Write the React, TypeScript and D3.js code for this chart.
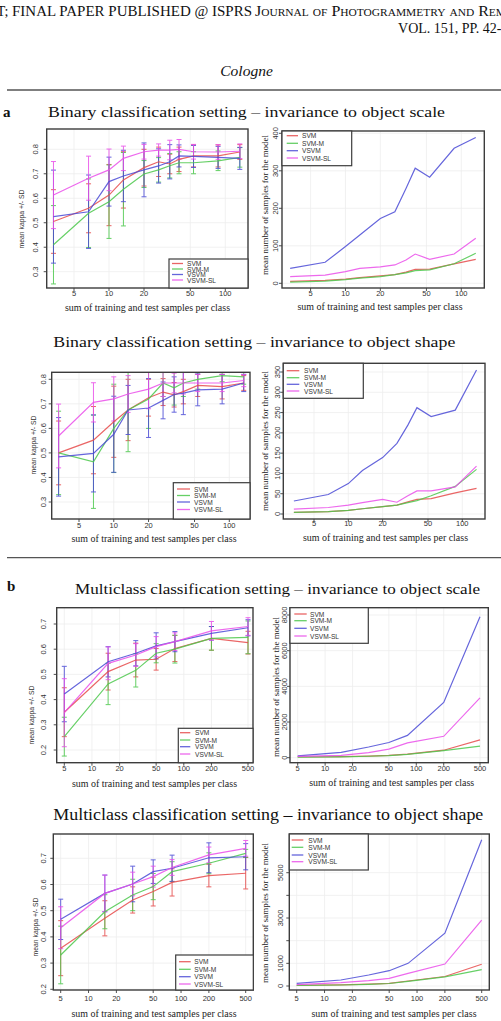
import React from "react";
import * as d3 from "d3";

// ---- data ----
const seriesNames = ["SVM", "SVM-M", "VSVM", "VSVM-SL"];
const seriesColors = ["#e64b4b", "#4cc84c", "#4b4bd6", "#ea4fea"];

const xBinary = [3.33, 6.67, 10, 13.3, 20, 26.7, 33.3, 40, 53.3, 86.7, 133.3];
const xMulti = [5, 15, 30, 50, 80, 200, 500];

const ticksBinary = [5, 10, 20, 50, 100];
const ticksMulti = [5, 10, 20, 50, 100, 200, 500];
const kappaTicksA = [0.3, 0.4, 0.5, 0.6, 0.7, 0.8];
const kappaTicksB = [0.2, 0.3, 0.4, 0.5, 0.6, 0.7];

// a) binary, invariance to object scale
const binScaleKappa = [
  [0.505, 0.559, 0.613, 0.675, 0.725, 0.749, 0.74, 0.759, 0.773, 0.773, 0.789],
  [0.41, 0.539, 0.586, 0.637, 0.699, 0.716, 0.733, 0.745, 0.745, 0.753, 0.767],
  [0.525, 0.545, 0.668, 0.691, 0.716, 0.732, 0.749, 0.773, 0.771, 0.767, 0.763],
  [0.613, 0.682, 0.716, 0.763, 0.79, 0.797, 0.797, 0.8, 0.79, 0.789, 0.792],
];
const binScaleSD = [
  [0.13, 0.1, 0.125, 0.115, 0.075, 0.06, 0.04, 0.05, 0.045, 0.045, 0.03],
  [0.16, 0.14, 0.15, 0.15, 0.055, 0.05, 0.05, 0.045, 0.045, 0.04, 0.04],
  [0.19, 0.15, 0.1, 0.105, 0.11, 0.07, 0.07, 0.045, 0.045, 0.045, 0.045],
  [0.137, 0.09, 0.085, 0.05, 0.03, 0.025, 0.04, 0.04, 0.03, 0.03, 0.03],
];
const binScaleSamples = [
  [5, 8, 11, 15, 20, 23, 30, 37, 38, 52, 64],
  [3, 6, 10, 14, 18, 23, 28, 34, 36, 52, 80],
  [40, 56, 98, 129, 173, 191, 253, 307, 283, 360, 389],
  [18, 22, 31, 40, 44, 49, 62, 78, 64, 78, 120],
];

// a) binary, invariance to object shape
const binShapeKappa = [
  [0.5, 0.552, 0.627, 0.675, 0.725, 0.748, 0.737, 0.75, 0.775, 0.77, 0.785],
  [0.5, 0.464, 0.6, 0.675, 0.72, 0.785, 0.765, 0.785, 0.8, 0.815, 0.81],
  [0.484, 0.498, 0.576, 0.675, 0.683, 0.714, 0.738, 0.744, 0.757, 0.76, 0.785],
  [0.569, 0.706, 0.72, 0.74, 0.76, 0.785, 0.785, 0.785, 0.785, 0.785, 0.795],
];
const binShapeSD = [
  [0.13, 0.137, 0.145, 0.125, 0.075, 0.055, 0.05, 0.05, 0.045, 0.05, 0.03],
  [0.17, 0.19, 0.18, 0.17, 0.12, 0.055, 0.07, 0.055, 0.04, 0.025, 0.03],
  [0.16, 0.157, 0.155, 0.1, 0.12, 0.075, 0.072, 0.088, 0.065, 0.06, 0.035],
  [0.13, 0.08, 0.09, 0.075, 0.08, 0.055, 0.04, 0.045, 0.035, 0.035, 0.025],
];
const binShapeSamples = [
  [4, 6, 9, 13, 18, 22, 30, 36, 38, 52, 63],
  [4, 6, 9, 13, 18, 22, 28, 33, 45, 68, 110],
  [32, 48, 75, 107, 139, 174, 219, 262, 240, 256, 355],
  [12, 16, 22, 28, 36, 29, 45, 57, 57, 67, 118],
];

// b) multiclass, invariance to object scale
const mulScaleKappa = [
  [0.35, 0.511, 0.557, 0.56, 0.603, 0.643, 0.626],
  [0.253, 0.462, 0.516, 0.584, 0.6, 0.643, 0.647],
  [0.422, 0.55, 0.584, 0.613, 0.63, 0.663, 0.685],
  [0.348, 0.544, 0.577, 0.61, 0.63, 0.673, 0.69],
];
const mulScaleSD = [
  [0.097, 0.073, 0.067, 0.043, 0.052, 0.047, 0.045],
  [0.077, 0.082, 0.066, 0.038, 0.055, 0.047, 0.065],
  [0.11, 0.06, 0.05, 0.052, 0.04, 0.027, 0.032],
  [0.135, 0.065, 0.045, 0.04, 0.035, 0.037, 0.035],
];
const mulScaleSamples = [
  [40, 60, 90, 130, 200, 420, 1000],
  [30, 50, 80, 120, 190, 400, 650],
  [100, 300, 600, 850, 1250, 3100, 7900],
  [70, 130, 280, 480, 830, 1200, 3350],
];

// b) multiclass, invariance to object shape
const mulShapeKappa = [
  [0.357, 0.471, 0.541, 0.573, 0.608, 0.634, 0.643],
  [0.331, 0.496, 0.56, 0.592, 0.649, 0.681, 0.719],
  [0.467, 0.566, 0.602, 0.649, 0.662, 0.702, 0.706],
  [0.435, 0.566, 0.602, 0.63, 0.665, 0.713, 0.738],
];
const mulShapeSD = [
  [0.105, 0.067, 0.05, 0.055, 0.052, 0.043, 0.06],
  [0.11, 0.065, 0.06, 0.05, 0.038, 0.04, 0.015],
  [0.077, 0.07, 0.068, 0.045, 0.05, 0.057, 0.05],
  [0.08, 0.07, 0.045, 0.04, 0.03, 0.03, 0.03],
];
const mulShapeSamples = [
  [30, 50, 80, 120, 220, 420, 960],
  [25, 45, 75, 110, 200, 400, 720],
  [120, 265, 485, 675, 1000, 2330, 6450],
  [60, 145, 235, 340, 560, 970, 2910],
];

const SERIF = "'Liberation Serif', 'DejaVu Serif', serif";
const SANS = "'Liberation Sans', Arial, sans-serif";
const X_TITLE = "sum of training and test samples per class";

type Legend = { box: number[]; rows: number[]; line: number[]; textX: number };
type Panel = {
  id: string;
  box: number[]; // x0, y0, x1, y1
  xs: number[];
  xDom: number[]; xRange: number[]; xTicks: number[];
  yDom: number[]; yRange: number[]; yTicks: number[]; yLabels?: number[];
  kappa: boolean;
  means: number[][]; sds?: number[][];
  yLabX: number; yTitleX: number; yTitleY: number;
  xLabY: number; xTitleX: number; xTitleY: number;
  legend: Legend;
};

const panels: Panel[] = [
  {
    id: "a1l", box: [46.7, 129, 248, 288], xs: xBinary,
    xDom: [5, 100], xRange: [74, 225.3], xTicks: ticksBinary,
    yDom: [0.3, 0.8], yRange: [271.7, 149.3], yTicks: kappaTicksA, kappa: true,
    means: binScaleKappa, sds: binScaleSD,
    yLabX: 35, yTitleX: 21, yTitleY: 219, xLabY: 296, xTitleX: 147.5, xTitleY: 311,
    legend: { box: [169, 259, 248, 288], rows: [263.5, 269, 274.5, 280], line: [172, 183], textX: 187 },
  },
  {
    id: "a1r", box: [282, 131, 484.3, 288], xs: xBinary,
    xDom: [5, 100], xRange: [310.6, 461.3], xTicks: ticksBinary,
    yDom: [0, 400], yRange: [283.3, 133.3], yTicks: [0, 100, 200, 300, 400], kappa: false,
    means: binScaleSamples,
    yLabX: 275, yTitleX: 265, yTitleY: 205, xLabY: 296, xTitleX: 380, xTitleY: 310,
    legend: { box: [282, 131, 351.7, 165.7], rows: [135.7, 143.3, 150.7, 158], line: [286.7, 298], textX: 302 },
  },
  {
    id: "a2l", box: [51.7, 372.3, 250, 519], xs: xBinary,
    xDom: [5, 100], xRange: [79, 229.3], xTicks: ticksBinary,
    yDom: [0.3, 0.8], yRange: [502, 379.3], yTicks: kappaTicksA, kappa: true,
    means: binShapeKappa, sds: binShapeSD,
    yLabX: 43.3, yTitleX: 33, yTitleY: 445, xLabY: 528, xTitleX: 154, xTitleY: 541.7,
    legend: { box: [173.3, 482.7, 250, 519], rows: [489, 495.5, 502, 509.5], line: [177, 190], textX: 194 },
  },
  {
    id: "a2r", box: [283.3, 363.3, 485, 519], xs: xBinary,
    xDom: [5, 100], xRange: [314, 462.3], xTicks: ticksBinary,
    yDom: [0, 350], yRange: [514, 372], yTicks: [0, 50, 100, 150, 200, 250, 300, 350], kappa: false,
    means: binShapeSamples,
    yLabX: 277.5, yTitleX: 265, yTitleY: 441, xLabY: 525.5, xTitleX: 385.5, xTitleY: 541,
    legend: { box: [283.3, 363.3, 363.3, 398.3], rows: [370.7, 377.7, 384.3, 391], line: [286.7, 299.3], textX: 304 },
  },
  {
    id: "b1l", box: [56.7, 607.7, 253, 762.7], xs: xMulti,
    xDom: [5, 500], xRange: [64.3, 248], xTicks: ticksMulti,
    yDom: [0.2, 0.7], yRange: [750, 624], yTicks: kappaTicksB, kappa: true,
    means: mulScaleKappa, sds: mulScaleSD,
    yLabX: 43.3, yTitleX: 31.7, yTitleY: 715, xLabY: 771, xTitleX: 154.5, xTitleY: 786.7,
    legend: { box: [178.3, 728.3, 253, 762.7], rows: [732.7, 740, 746.7, 754], line: [180, 190.3], textX: 195 },
  },
  {
    id: "b1r", box: [290, 607.7, 488.3, 762.7], xs: xMulti,
    xDom: [5, 500], xRange: [297.7, 480], xTicks: ticksMulti,
    yDom: [0, 8000], yRange: [757.7, 615], yTicks: [0, 2000, 4000, 6000, 8000], kappa: false,
    means: mulScaleSamples,
    yLabX: 284.5, yTitleX: 276, yTitleY: 687, xLabY: 771, xTitleX: 391.7, xTitleY: 786,
    legend: { box: [290, 607.7, 368.3, 643.3], rows: [614, 620.7, 628.3, 636], line: [294.3, 306.7], textX: 310 },
  },
  {
    id: "b2l", box: [53.3, 834, 253.3, 990], xs: xMulti,
    xDom: [5, 500], xRange: [60.7, 245.7], xTicks: ticksMulti,
    yDom: [0.2, 0.7], yRange: [989.3, 858.3], yTicks: kappaTicksB, kappa: true,
    means: mulShapeKappa, sds: mulShapeSD,
    yLabX: 43.3, yTitleX: 35, yTitleY: 927, xLabY: 1000.5, xTitleX: 154, xTitleY: 1016.7,
    legend: { box: [175.7, 955, 253.3, 990], rows: [961.7, 969.3, 976.7, 984], line: [179, 190.7], textX: 194.3 },
  },
  {
    id: "b2r", box: [289.3, 834, 489.3, 990], xs: xMulti,
    xDom: [5, 500], xRange: [296.7, 481.7], xTicks: ticksMulti,
    yDom: [0, 5000], yRange: [986, 872.7], yTicks: [0, 1000, 2000, 3000, 4000, 5000],
    yLabels: [0, 1000, 3000, 5000], kappa: false,
    means: mulShapeSamples,
    yLabX: 280, yTitleX: 265, yTitleY: 913, xLabY: 1000.5, xTitleX: 394, xTitleY: 1016.7,
    legend: { box: [289.3, 834, 368.3, 870], rows: [840, 847.3, 855, 861.7], line: [291.7, 303.3], textX: 308.3 },
  },
];

function PlotPanel({ p }: { p: Panel }) {
  const [x0, y0, x1, y1] = p.box;
  const x = d3.scaleLog().domain(p.xDom).range(p.xRange);
  const y = d3.scaleLinear().domain(p.yDom).range(p.yRange);
  const line = d3.line<number>()
    .x((_, i) => x(p.xs[i]))
    .y((d) => y(d));
  const fmt = p.kappa ? d3.format(".1f") : d3.format("d");
  const labels = p.yLabels ?? p.yTicks;
  const L = p.legend;

  return (
    <g>
      <defs>
        <clipPath id={`clip-${p.id}`}>
          <rect x={x0} y={y0} width={x1 - x0} height={y1 - y0} />
        </clipPath>
      </defs>
      {/* faint grid */}
      <g stroke="#ededed" strokeWidth={0.8}>
        {p.xTicks.map((t) => (
          <line key={"gx" + t} x1={x(t)} x2={x(t)} y1={y0} y2={y1} />
        ))}
        {p.yTicks.map((t) => (
          <line key={"gy" + t} x1={x0} x2={x1} y1={y(t)} y2={y(t)} />
        ))}
      </g>
      <g clipPath={`url(#clip-${p.id})`}>
        {p.sds && p.means.map((s, si) => (
          <g key={"e" + si} stroke={seriesColors[si]} strokeWidth={1} opacity={0.85}>
            {s.map((m, i) => {
              const sd = p.sds![si][i];
              const cx = x(p.xs[i]);
              const top = y(m + sd);
              const bot = y(m - sd);
              return (
                <g key={i}>
                  <line x1={cx} x2={cx} y1={top} y2={bot} />
                  <line x1={cx - 2.5} x2={cx + 2.5} y1={top} y2={top} />
                  <line x1={cx - 2.5} x2={cx + 2.5} y1={bot} y2={bot} />
                </g>
              );
            })}
          </g>
        ))}
        {p.means.map((s, si) => (
          <path key={"l" + si} d={line(s) ?? ""} fill="none"
            stroke={seriesColors[si]} strokeWidth={1.2} opacity={0.85} />
        ))}
      </g>
      <rect x={x0} y={y0} width={x1 - x0} height={y1 - y0}
        fill="none" stroke="#3c3c3c" strokeWidth={1.4} />
      {/* axes */}
      <g stroke="#3c3c3c" strokeWidth={0.9}>
        {p.xTicks.map((t) => (
          <line key={"tx" + t} x1={x(t)} x2={x(t)} y1={y1} y2={y1 + 3} />
        ))}
        {p.yTicks.map((t) => (
          <line key={"ty" + t} x1={x0 - 3} x2={x0} y1={y(t)} y2={y(t)} />
        ))}
      </g>
      <g fontFamily={SANS} fontSize={7.5} fill="#333" textAnchor="middle">
        {p.xTicks.map((t) => (
          <text key={"lx" + t} x={x(t)} y={p.xLabY}>{t}</text>
        ))}
        {labels.map((t) => (
          <text key={"ly" + t} dominantBaseline="central"
            transform={`translate(${p.yLabX},${y(t)}) rotate(-90)`}>{fmt(t)}</text>
        ))}
      </g>
      <text x={p.xTitleX} y={p.xTitleY} textAnchor="middle" fontFamily={SERIF}
        fontSize={9.5} fill="#1a1a1a" textLength={165} lengthAdjust="spacingAndGlyphs">
        {X_TITLE}
      </text>
      {p.kappa ? (
        <text transform={`translate(${p.yTitleX},${p.yTitleY}) rotate(-90)`}
          textAnchor="middle" dominantBaseline="central" fontFamily={SANS}
          fontSize={6.8} fill="#333">mean kappa +/- SD</text>
      ) : (
        <text transform={`translate(${p.yTitleX},${p.yTitleY}) rotate(-90)`}
          textAnchor="middle" dominantBaseline="central" fontFamily={SERIF}
          fontSize={9} fill="#222" textLength={140} lengthAdjust="spacingAndGlyphs">
          mean number of samples for the model
        </text>
      )}
      {/* legend */}
      <rect x={L.box[0]} y={L.box[1]} width={L.box[2] - L.box[0]} height={L.box[3] - L.box[1]}
        fill="#fff" stroke="#3c3c3c" strokeWidth={1.2} />
      {seriesNames.map((n, i) => (
        <g key={n}>
          <line x1={L.line[0]} x2={L.line[1]} y1={L.rows[i]} y2={L.rows[i]}
            stroke={seriesColors[i]} strokeWidth={1.3} opacity={0.85} />
          <text x={L.textX} y={L.rows[i]} dominantBaseline="central"
            fontFamily={SANS} fontSize={6.6} fill="#333">{n}</text>
        </g>
      ))}
    </g>
  );
}

export default function App() {
  return (
    <svg width={501} height={1021} viewBox="0 0 501 1021"
      style={{ position: "absolute", left: 0, top: 0, background: "#fff" }}>
      <rect width={501} height={1021} fill="#fff" />
      {/* page header, cut at the page edges as in the scan */}
      <g fontFamily={SERIF} fill="#111">
        <text x={8.5} y={16} fontSize={14} textAnchor="end">PREPRINT;</text>
        <text x={12} y={16} fontSize={14} textLength={240} lengthAdjust="spacingAndGlyphs">
          FINAL PAPER PUBLISHED @ ISPRS
        </text>
        <text x={255} y={16} fontSize={14} textLength={251} lengthAdjust="spacingAndGlyphs"
          style={{ fontVariant: "small-caps" }}>
          Journal of Photogrammetry and Rem
        </text>
        <text x={501.5} y={33} fontSize={14} textAnchor="end">VOL. 151, PP. 42-</text>
        <text x={246.5} y={76} fontSize={15.5} fontStyle="italic" textAnchor="middle">Cologne</text>
      </g>
      <line x1={7} x2={501} y1={90} y2={90} stroke="#555" strokeWidth={1.3} />
      <line x1={7} x2={501} y1={557.7} y2={557.7} stroke="#555" strokeWidth={1.3} />

      <g fontFamily={SERIF} fill="#111">
        <text x={3} y={116.5} fontSize={15} fontWeight="bold">a</text>
        <text x={7} y={591} fontSize={15} fontWeight="bold">b</text>
        <text x={48} y={116.5} fontSize={15.5} textLength={397} lengthAdjust="spacingAndGlyphs">
          Binary classification setting – invariance to object scale
        </text>
        <text x={53.3} y={347} fontSize={15.5} textLength={402} lengthAdjust="spacingAndGlyphs">
          Binary classification setting – invariance to object shape
        </text>
        <text x={75} y={594} fontSize={15.5} textLength={405} lengthAdjust="spacingAndGlyphs">
          Multiclass classification setting – invariance to object scale
        </text>
        <text x={53.3} y={819.5} fontSize={16} textLength={430} lengthAdjust="spacingAndGlyphs">
          Multiclass classification setting – invariance to object shape
        </text>
      </g>

      {panels.map((p) => (
        <PlotPanel key={p.id} p={p} />
      ))}
    </svg>
  );
}
